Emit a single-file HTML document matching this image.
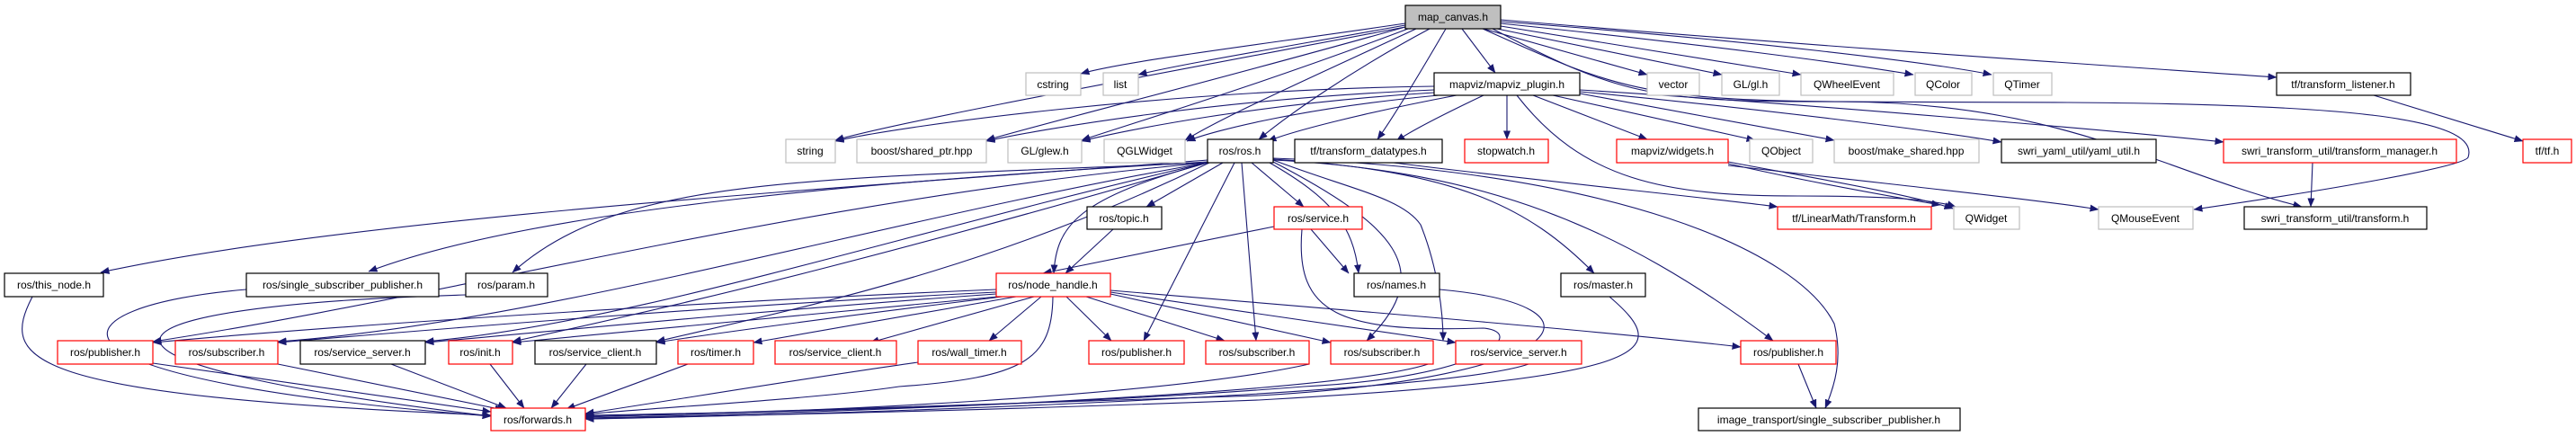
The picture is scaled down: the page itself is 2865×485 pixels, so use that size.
<!DOCTYPE html>
<html><head><meta charset="utf-8"><style>
html,body{margin:0;padding:0;background:#fff;}
svg{display:block;}
text{font-family:"Liberation Sans",Arial,sans-serif;font-size:12px;fill:#000;text-anchor:middle;}
.e{fill:none;stroke:#191970;stroke-width:1.1;marker-end:url(#a);}
.b{fill:#fff;stroke:#000;stroke-width:1.2;}
.g{fill:#fff;stroke:#bfbfbf;stroke-width:1.2;}
.r{fill:#fff;stroke:#ff0000;stroke-width:1.2;}
</style></head><body>
<svg width="2865" height="485" viewBox="0 0 2865 485" xmlns="http://www.w3.org/2000/svg">
<defs><marker id="a" markerWidth="10" markerHeight="8" refX="9.5" refY="4" orient="auto" markerUnits="userSpaceOnUse"><path d="M0,0 L10,4 L0,8 z" fill="#191970"/></marker></defs>
<path class="e" d="M1563,26 C1400,50 1250,68 1202,82"/>
<path class="e" d="M1563,28 C1430,52 1310,72 1266,83"/>
<path class="e" d="M1563,30 C1300,80 1000,135 929,156"/>
<path class="e" d="M1563,30 C1350,90 1150,140 1097,156"/>
<path class="e" d="M1566,32 C1400,95 1250,140 1203,156"/>
<path class="e" d="M1575,32 C1450,90 1360,130 1318,156"/>
<path class="e" d="M1590,32 C1500,80 1430,130 1400,155"/>
<path class="e" d="M1608,32 C1580,80 1550,130 1532,155"/>
<path class="e" d="M1626,32 L1663,81"/>
<path class="e" d="M1650,32 L1832,83"/>
<path class="e" d="M1660,31 L1915,83"/>
<path class="e" d="M1669,29 L2003,83"/>
<path class="e" d="M1669,26 C1900,50 2050,70 2128,83"/>
<path class="e" d="M1669,24 C1950,45 2150,70 2215,83"/>
<path class="e" d="M1669,22 C2000,50 2300,70 2532,86"/>
<path class="e" d="M1649,32 C1790,95 1820,112 2050,113 C2300,115 2400,190 2560,230"/>
<path class="e" d="M1660,32 C1790,100 1830,112 2000,113 L2300,114 C2600,116 2760,130 2745,175 C2740,185 2600,210 2440,233"/>
<path class="e" d="M1595,96 C1300,100 1000,140 929,157"/>
<path class="e" d="M1595,100 C1350,110 1150,145 1097,157"/>
<path class="e" d="M1595,103 C1400,115 1250,145 1203,157"/>
<path class="e" d="M1600,106 C1450,120 1350,145 1320,157"/>
<path class="e" d="M1620,106 C1520,125 1440,145 1410,157"/>
<path class="e" d="M1650,106 C1610,125 1570,145 1553,157"/>
<path class="e" d="M1676,106 L1676,155"/>
<path class="e" d="M1705,106 L1832,155"/>
<path class="e" d="M1727,106 L1952,156"/>
<path class="e" d="M1757,104 L2040,156"/>
<path class="e" d="M1757,102 C1950,120 2150,145 2226,158"/>
<path class="e" d="M1757,100 C2000,115 2350,145 2473,158"/>
<path class="e" d="M1687,106 C1760,200 1850,218 2000,218 C2100,218 2150,222 2175,230"/>
<path class="e" d="M1922,180 C2000,195 2120,215 2172,232"/>
<path class="e" d="M1922,182 C2000,200 2100,218 2158,228"/>
<path class="e" d="M1922,184 C2100,205 2250,220 2334,233"/>
<path class="e" d="M1550,181 C1700,200 1900,220 1977,230"/>
<path class="e" d="M2640,106 L2806,157"/>
<path class="e" d="M2572,181 L2570,230"/>
<path class="e" d="M1343,178 C1000,205 400,240 112,303"/>
<path class="e" d="M1343,180 C1000,200 600,230 410,302"/>
<path class="e" d="M1343,181 C900,200 690,195 570,303"/>
<path class="e" d="M1343,181 C900,220 500,330 170,380"/>
<path class="e" d="M1343,181 C1000,240 600,360 309,380"/>
<path class="e" d="M1343,181 C1000,260 700,360 473,380"/>
<path class="e" d="M1343,181 C1000,280 800,330 570,380"/>
<path class="e" d="M1345,181 C1100,300 900,340 730,380"/>
<path class="e" d="M1360,181 L1275,230"/>
<path class="e" d="M1343,181 C1200,220 1175,250 1172,304"/>
<path class="e" d="M1373,181 L1272,379"/>
<path class="e" d="M1381,181 L1397,379"/>
<path class="e" d="M1392,181 L1450,230"/>
<path class="e" d="M1412,181 C1480,220 1505,250 1511,304"/>
<path class="e" d="M1416,180 C1550,250 1600,300 1520,379"/>
<path class="e" d="M1416,178 C1500,210 1560,220 1580,250 C1600,300 1605,350 1605,379"/>
<path class="e" d="M1416,177 C1620,190 1700,230 1773,304"/>
<path class="e" d="M1416,178 C1650,190 1800,250 1972,379"/>
<path class="e" d="M1416,176 C1800,190 2000,280 2040,360 C2050,400 2040,430 2030,454"/>
<path class="e" d="M1417,252 L1160,304"/>
<path class="e" d="M1458,255 L1500,304"/>
<path class="e" d="M1448,255 C1440,350 1490,370 1650,365 C1700,370 1650,420 1450,430 C1200,450 900,458 651,462"/>
<path class="e" d="M1238,255 L1185,304"/>
<path class="e" d="M1108,322 C800,335 400,360 170,381"/>
<path class="e" d="M1108,325 C800,340 500,365 309,381"/>
<path class="e" d="M1108,327 C850,345 600,370 473,381"/>
<path class="e" d="M1110,330 C900,350 700,370 570,381"/>
<path class="e" d="M1115,330 C950,350 800,370 730,381"/>
<path class="e" d="M1130,330 L838,381"/>
<path class="e" d="M1150,330 L968,381"/>
<path class="e" d="M1158,330 L1100,379"/>
<path class="e" d="M1186,330 L1236,379"/>
<path class="e" d="M1208,330 L1362,379"/>
<path class="e" d="M1235,327 L1480,381"/>
<path class="e" d="M1235,325 L1619,381"/>
<path class="e" d="M1235,323 C1500,345 1800,370 1936,386"/>
<path class="e" d="M1171,330 C1170,400 1140,420 1000,430 C900,445 700,455 651,461"/>
<path class="e" d="M36,330 C0,400 20,440 546,462"/>
<path class="e" d="M274,322 C60,340 0,420 546,463"/>
<path class="e" d="M518,328 C100,340 20,400 546,463"/>
<path class="e" d="M1601,322 C1800,340 1750,420 1400,440 C1000,455 800,460 651,464"/>
<path class="e" d="M1790,330 C1860,390 1850,420 1400,445 C1000,460 800,462 651,466"/>
<path class="e" d="M170,404 L546,458"/>
<path class="e" d="M309,405 L560,456"/>
<path class="e" d="M435,405 L563,454"/>
<path class="e" d="M545,405 L583,454"/>
<path class="e" d="M652,405 L613,454"/>
<path class="e" d="M765,405 L630,455"/>
<path class="e" d="M1021,403 C900,420 750,445 651,460"/>
<path class="e" d="M1456,405 C1300,440 900,460 651,463"/>
<path class="e" d="M1594,403 C1500,440 900,460 651,465"/>
<path class="e" d="M1700,405 C1600,440 900,462 651,466"/>
<path class="e" d="M2000,405 L2020,454"/>
<rect x="1563" y="6" width="106" height="26" fill="#bfbfbf" stroke="#000" stroke-width="1.2"/><text x="1616" y="23">map_canvas.h</text>
<rect class="g" x="1141" y="81" width="61" height="25"/><text x="1171" y="98">cstring</text>
<rect class="g" x="1227" y="81" width="39" height="25"/><text x="1246" y="98">list</text>
<rect class="b" x="1595" y="81" width="162" height="25"/><text x="1676" y="98">mapviz/mapviz_plugin.h</text>
<rect class="g" x="1832" y="81" width="58" height="25"/><text x="1861" y="98">vector</text>
<rect class="g" x="1915" y="81" width="64" height="25"/><text x="1947" y="98">GL/gl.h</text>
<rect class="g" x="2003" y="81" width="103" height="25"/><text x="2054" y="98">QWheelEvent</text>
<rect class="g" x="2130" y="81" width="63" height="25"/><text x="2161" y="98">QColor</text>
<rect class="g" x="2217" y="81" width="65" height="25"/><text x="2249" y="98">QTimer</text>
<rect class="b" x="2532" y="81" width="149" height="25"/><text x="2606" y="98">tf/transform_listener.h</text>
<rect class="g" x="874" y="155" width="55" height="26"/><text x="901" y="172">string</text>
<rect class="g" x="953" y="155" width="144" height="26"/><text x="1025" y="172">boost/shared_ptr.hpp</text>
<rect class="g" x="1121" y="155" width="82" height="26"/><text x="1162" y="172">GL/glew.h</text>
<rect class="g" x="1228" y="155" width="90" height="26"/><text x="1273" y="172">QGLWidget</text>
<rect class="b" x="1343" y="155" width="73" height="26"/><text x="1379" y="172">ros/ros.h</text>
<rect class="b" x="1440" y="155" width="164" height="26"/><text x="1522" y="172">tf/transform_datatypes.h</text>
<rect class="r" x="1629" y="155" width="93" height="26"/><text x="1675" y="172">stopwatch.h</text>
<rect class="r" x="1798" y="155" width="124" height="26"/><text x="1860" y="172">mapviz/widgets.h</text>
<rect class="g" x="1946" y="155" width="70" height="26"/><text x="1981" y="172">QObject</text>
<rect class="g" x="2040" y="155" width="161" height="26"/><text x="2120" y="172">boost/make_shared.hpp</text>
<rect class="b" x="2226" y="155" width="172" height="26"/><text x="2312" y="172">swri_yaml_util/yaml_util.h</text>
<rect class="r" x="2473" y="155" width="259" height="26"/><text x="2602" y="172">swri_transform_util/transform_manager.h</text>
<rect class="r" x="2806" y="155" width="54" height="26"/><text x="2833" y="172">tf/tf.h</text>
<rect class="b" x="1209" y="230" width="83" height="25"/><text x="1250" y="247">ros/topic.h</text>
<rect class="r" x="1417" y="230" width="98" height="25"/><text x="1466" y="247">ros/service.h</text>
<rect class="r" x="1977" y="230" width="171" height="25"/><text x="2062" y="247">tf/LinearMath/Transform.h</text>
<rect class="g" x="2173" y="230" width="73" height="25"/><text x="2209" y="247">QWidget</text>
<rect class="g" x="2334" y="230" width="105" height="25"/><text x="2386" y="247">QMouseEvent</text>
<rect class="b" x="2496" y="230" width="203" height="25"/><text x="2597" y="247">swri_transform_util/transform.h</text>
<rect class="b" x="5" y="304" width="110" height="26"/><text x="60" y="321">ros/this_node.h</text>
<rect class="b" x="274" y="304" width="214" height="26"/><text x="381" y="321">ros/single_subscriber_publisher.h</text>
<rect class="b" x="518" y="304" width="91" height="26"/><text x="563" y="321">ros/param.h</text>
<rect class="r" x="1108" y="304" width="127" height="26"/><text x="1171" y="321">ros/node_handle.h</text>
<rect class="b" x="1506" y="304" width="95" height="26"/><text x="1553" y="321">ros/names.h</text>
<rect class="b" x="1736" y="304" width="94" height="26"/><text x="1783" y="321">ros/master.h</text>
<rect class="r" x="64" y="379" width="106" height="26"/><text x="117" y="396">ros/publisher.h</text>
<rect class="r" x="195" y="379" width="114" height="26"/><text x="252" y="396">ros/subscriber.h</text>
<rect class="b" x="334" y="379" width="139" height="26"/><text x="403" y="396">ros/service_server.h</text>
<rect class="r" x="499" y="379" width="71" height="26"/><text x="534" y="396">ros/init.h</text>
<rect class="b" x="595" y="379" width="135" height="26"/><text x="662" y="396">ros/service_client.h</text>
<rect class="r" x="754" y="379" width="84" height="26"/><text x="796" y="396">ros/timer.h</text>
<rect class="r" x="862" y="379" width="135" height="26"/><text x="929" y="396">ros/service_client.h</text>
<rect class="r" x="1021" y="379" width="115" height="26"/><text x="1078" y="396">ros/wall_timer.h</text>
<rect class="r" x="1211" y="379" width="106" height="26"/><text x="1264" y="396">ros/publisher.h</text>
<rect class="r" x="1341" y="379" width="115" height="26"/><text x="1398" y="396">ros/subscriber.h</text>
<rect class="r" x="1480" y="379" width="114" height="26"/><text x="1537" y="396">ros/subscriber.h</text>
<rect class="r" x="1619" y="379" width="140" height="26"/><text x="1689" y="396">ros/service_server.h</text>
<rect class="r" x="1936" y="379" width="106" height="26"/><text x="1989" y="396">ros/publisher.h</text>
<rect class="r" x="546" y="454" width="105" height="25"/><text x="598" y="471">ros/forwards.h</text>
<rect class="b" x="1889" y="454" width="291" height="25"/><text x="2034" y="471">image_transport/single_subscriber_publisher.h</text>
</svg>
</body></html>
